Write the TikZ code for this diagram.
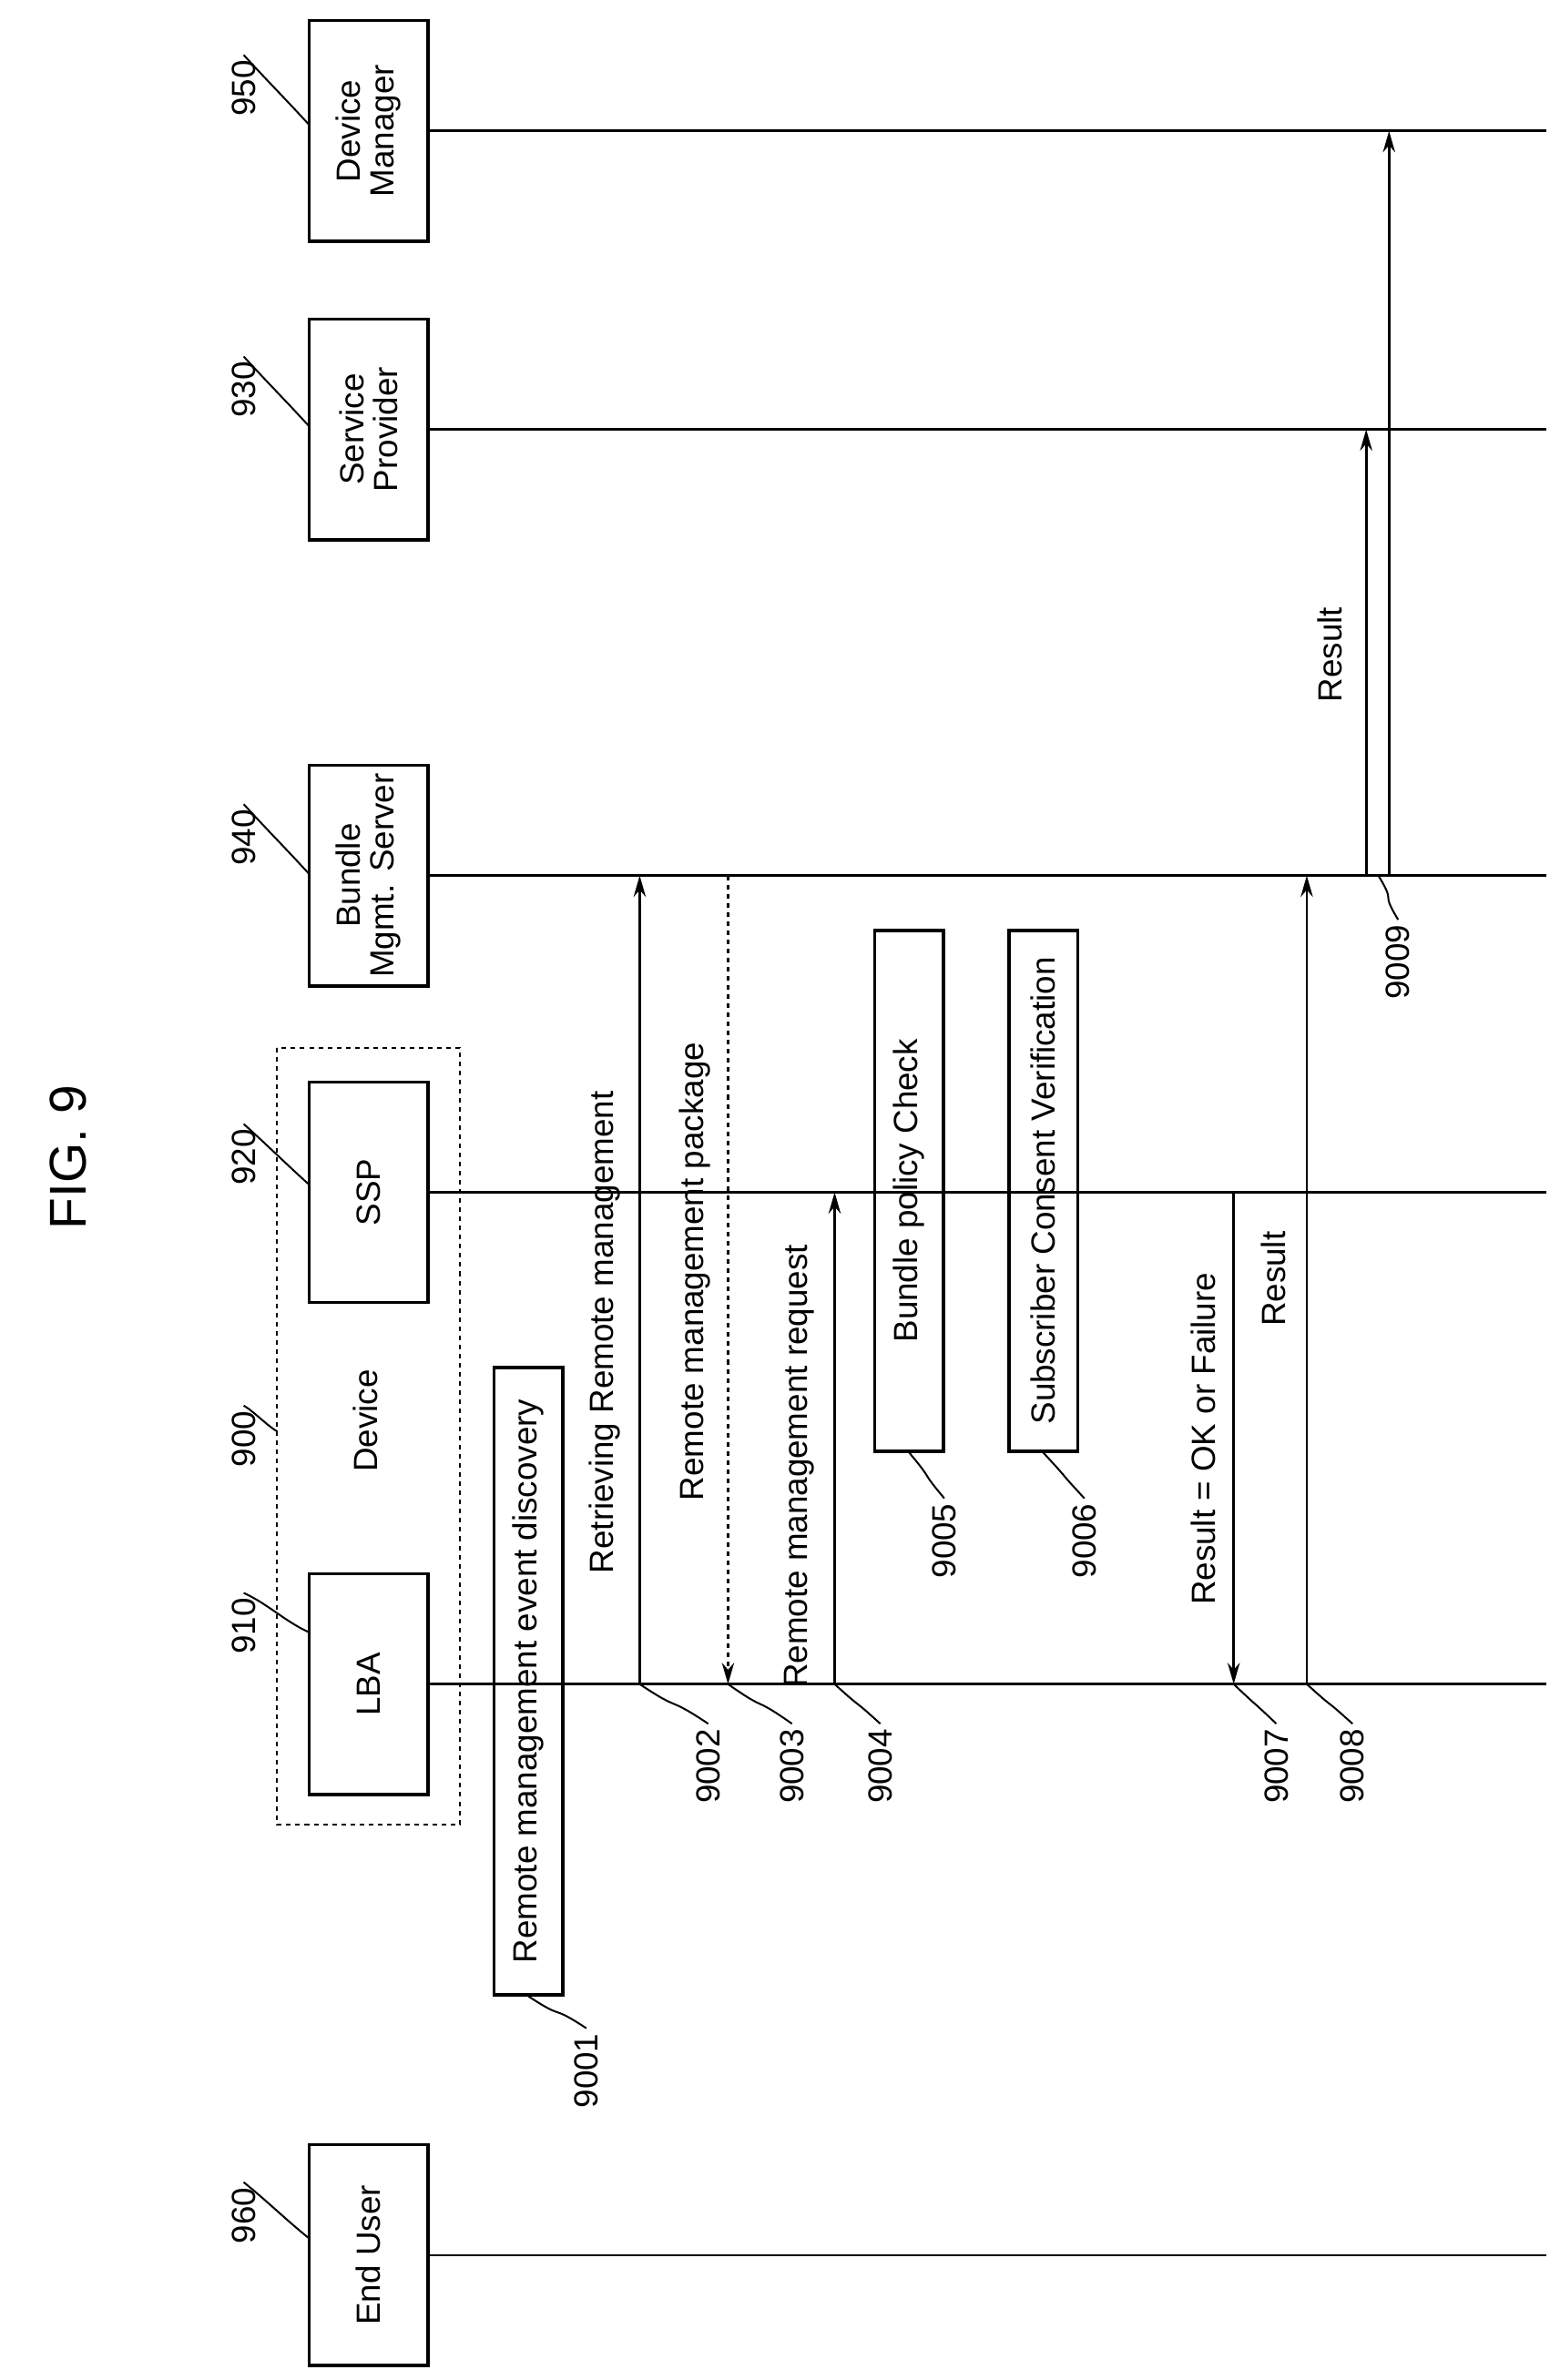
\documentclass[tikz,border=0pt]{standalone}
\usepackage{fontspec}
\setmainfont{Liberation Sans}
\usetikzlibrary{positioning,arrows.meta}
\tikzset{
  ent/.style={draw, line width=2pt, rotate=90, minimum width=145pt, minimum height=78pt,
    align=center, font=\fontsize{22}{22}\selectfont},
  act/.style={draw, line width=2pt, rotate=90, minimum height=45pt, inner xsep=6pt,
    font=\fontsize{22}{24}\selectfont},
  lbl/.style={rotate=90, font=\fontsize{22}{24}\selectfont},
  num/.style={rotate=90, font=\fontsize{22}{24}\selectfont},
  life/.style={line width=1.6pt},
  msg/.style={line width=1.6pt, -{Stealth[length=14pt,width=8pt]}},
  lead/.style={line width=1.2pt}
}
\newcommand{\refnum}[4]{% name, label pos, attach pos, text
  \node[num] (#1) at (#2) {#4};
  \draw[lead] (#3) .. controls ($(#3)!0.5!(#1.east)+(6,6)$) and ($(#3)!0.5!(#1.east)+(-6,-6)$) .. (#1.east);
}
\usetikzlibrary{calc}
\begin{document}
\begin{tikzpicture}[x=1pt,y=-1pt]
\useasboundingbox (0,0) rectangle (1024,1563);
\node[rotate=90, font=\fontsize{34}{34}\selectfont\rmfamily] (fig) at (45,760) {FIG. 9};

% entities
\node[ent] (dm)  at (242,86)   {Device\\Manager};
\node[ent] (sp)  at (242,282)  {Service\\Provider};
\node[ent] (bms) at (242,575)  {Bundle\\Mgmt. Server};
\node[ent] (ssp) at (242,783)  {SSP};
\node[ent] (lba) at (242,1106) {LBA};
\node[ent] (eu)  at (242,1481) {End User};
\draw[dashed, line width=1.2pt] (182,688) rectangle (302,1198);
\node[lbl] (dev) at (240,933) {Device};

% lifelines
\foreach \n/\y in {dm/86, sp/282, bms/575, ssp/783, lba/1106, eu/1481}{
  \coordinate (\n end) at (1015,\y);
  \draw[life] (\n.south) -- (\n end);
}

% messages
\coordinate (a2s) at (420,1106); \coordinate (a2e) at (420,575);
\draw[msg] (a2s) -- (a2e);
\node[lbl] (t2) at (397,875) {Retrieving Remote management};
\coordinate (a3s) at (478,575); \coordinate (a3e) at (478,1106);
\draw[msg, dashed] (a3s) -- (a3e);
\node[lbl] (t3) at (456,835) {Remote management package};
\coordinate (a4s) at (548,1106); \coordinate (a4e) at (548,783);
\draw[msg] (a4s) -- (a4e);
\node[lbl] (t4) at (525,963) {Remote management request};
\coordinate (a7s) at (810,783); \coordinate (a7e) at (810,1106);
\draw[msg] (a7s) -- (a7e);
\node[lbl] (t7) at (790,945) {Result = OK or Failure};
\coordinate (a8s) at (858,1106); \coordinate (a8e) at (858,575);
\draw[msg] (a8s) -- (a8e);
\node[lbl] (t8) at (836,840) {Result};
\coordinate (a9s) at (897,575); \coordinate (a9e) at (897,282);
\draw[msg] (a9s) -- (a9e);
\coordinate (b9s) at (912,575); \coordinate (b9e) at (912,86);
\draw[msg] (b9s) -- (b9e);
\node[lbl] (t9) at (873,430) {Result};

% actions
\node[act, minimum width=412pt] (s1) at (347,1104) {Remote management event discovery};
\node[act, minimum width=342pt] (s5) at (597,782) {Bundle policy Check};
\node[act, minimum width=342pt] (s6) at (685,782) {Subscriber Consent Verification};

% reference numbers
\refnum{n950}{160,58}{203,82}{950}
\refnum{n930}{160,256}{203,280}{930}
\refnum{n940}{160,550}{203,574}{940}
\refnum{n920}{160,760}{203,778}{920}
\refnum{n900}{160,945}{182,940}{900}
\refnum{n910}{160,1068}{203,1072}{910}
\refnum{n960}{160,1455}{203,1470}{960}
\refnum{n9001}{385,1360}{s1.west}{9001}
\refnum{n9002}{465,1160}{420,1106}{9002}
\refnum{n9003}{520,1160}{478,1106}{9003}
\refnum{n9004}{578,1160}{548,1106}{9004}
\refnum{n9005}{620,1012}{s5.west}{9005}
\refnum{n9006}{712,1012}{s6.west}{9006}
\refnum{n9007}{838,1160}{810,1106}{9007}
\refnum{n9008}{888,1160}{858,1106}{9008}
\refnum{n9009}{918,632}{905,575}{9009}
\end{tikzpicture}
\end{document}
